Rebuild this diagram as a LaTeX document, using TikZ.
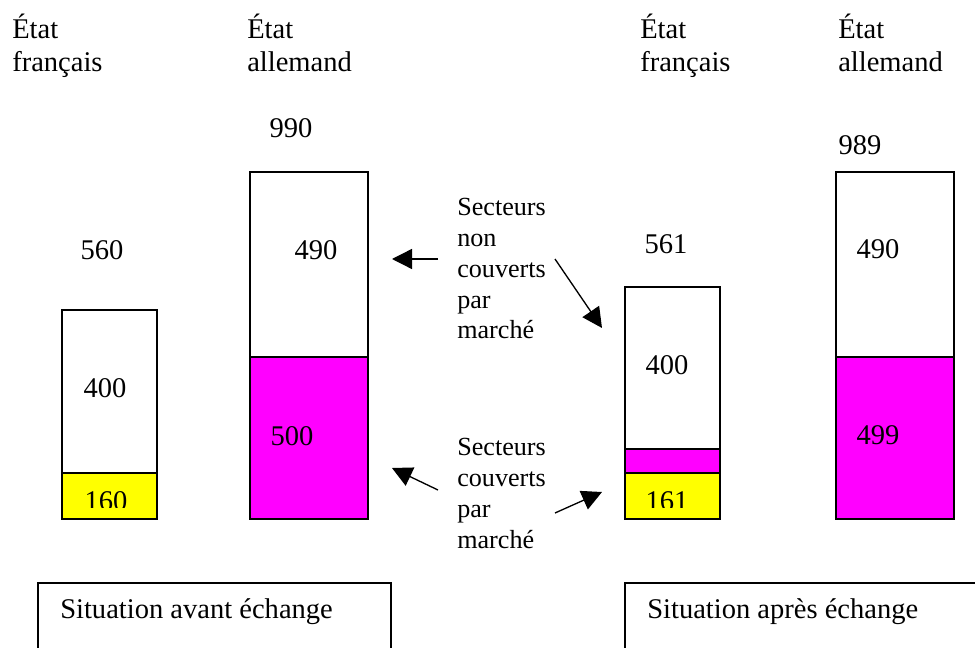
\documentclass[tikz,border=0pt]{standalone}
\usepackage{fontspec}
\setmainfont{Liberation Serif}
\usetikzlibrary{arrows.meta}
\definecolor{covfr}{RGB}{255,255,0}
\definecolor{covde}{RGB}{255,0,255}
\begin{document}
\begin{tikzpicture}[x=0.75pt,y=-0.75pt,
  bar/.style={draw=black,line width=1.1pt},
  lbl/.style={font=\fontsize{21.4}{24.6}\selectfont,inner sep=0pt,anchor=base west},
  num/.style={font=\fontsize{21.4}{24.6}\selectfont,inner sep=0pt,anchor=base},
  note/.style={font=\fontsize{19.6}{23}\selectfont,inner sep=0pt,anchor=base west},
  pointer/.style={line width=1pt,-{Triangle[length=15pt,width=15pt]}},
  caption/.style={draw=black,line width=1.1pt}
]
\clip (0,0) rectangle (975,648);

% column headings
\node[lbl] (hfa) at (12,39) {État};
\node[lbl] (hfb) at (12,72) {français};
\node[lbl] (hda) at (247,39) {État};
\node[lbl] (hdb) at (247,72) {allemand};
\node[lbl] (hfc) at (640,39) {État};
\node[lbl] (hfd) at (640,72) {français};
\node[lbl] (hdc) at (838,39) {État};
\node[lbl] (hdd) at (838,72) {allemand};

% bars before the exchange
\draw[bar,fill=white] (62,310) rectangle (157,519);
\draw[bar,fill=covfr] (62,473) rectangle (157,519);
\draw[bar,fill=white] (250,172) rectangle (368,519);
\draw[bar,fill=covde] (250,357) rectangle (368,519);

% bars after the exchange
\draw[bar,fill=white] (625,287) rectangle (720,519);
\draw[bar,fill=covde] (625,449) rectangle (720,473);
\draw[bar,fill=covfr] (625,473) rectangle (720,519);
\draw[bar,fill=white] (836,172) rectangle (954,519);
\draw[bar,fill=covde] (836,357) rectangle (954,519);

% totals and parts
\node[num] (tfa) at (102,260) {560};
\node[num] (tda) at (291,138) {990};
\node[num] (tfb) at (666,254) {561};
\node[num] (tdb) at (860,155) {989};
\node[num] (nfa) at (105,398) {400};
\node[num] (nda) at (316,260) {490};
\node[num] (cda) at (292,446) {500};
\node[num] (nfb) at (667,375) {400};
\node[num] (ndb) at (878,259) {490};
\node[num] (cdb) at (878,445) {499};
\begin{scope}
  \clip (60,470) rectangle (160,508);
  \node[num] (cfa) at (106,511) {160};
\end{scope}
\begin{scope}
  \clip (623,470) rectangle (722,508);
  \node[num] (cfb) at (667,511) {161};
\end{scope}

% legends
\foreach \t [count=\i] in {Secteurs,non,couverts,par,marché}
  \node[note] (nc\i) at (457,{216+30.75*(\i-1)}) {\t};
\foreach \t [count=\i] in {Secteurs,couverts,par,marché}
  \node[note] (cv\i) at (457,{456+30.75*(\i-1)}) {\t};

% pointers
\coordinate (p1t) at (438,259);
\coordinate (p1h) at (392,259);
\coordinate (p2t) at (555,259);
\coordinate (p2h) at (602,328);
\coordinate (p3t) at (438,490);
\coordinate (p3h) at (392,468);
\coordinate (p4t) at (555,513);
\coordinate (p4h) at (602,492);
\draw[pointer] (p1t) -- (p1h);
\draw[pointer] (p2t) -- (p2h);
\draw[pointer] (p3t) -- (p3h);
\draw[pointer] (p4t) -- (p4h);

% captions
\draw[caption] (38,583) rectangle (391,700);
\node[lbl] (cap1) at (60,618) {Situation avant échange};
\draw[caption] (625,583) rectangle (1000,700);
\node[lbl] (cap2) at (647,618) {Situation après échange};
\end{tikzpicture}
\end{document}
